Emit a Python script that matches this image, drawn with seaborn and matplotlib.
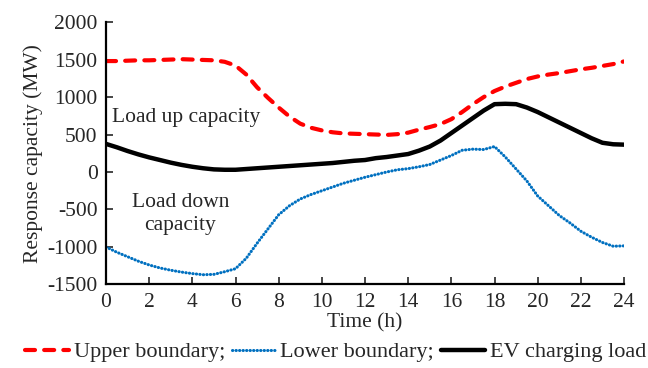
import numpy as np
import pandas as pd
import matplotlib
matplotlib.use("Agg")
import matplotlib.pyplot as plt
import seaborn as sns

# Half-hourly time axis (h)
hours = [i * 0.5 for i in range(49)]

# Upper boundary of response capacity (MW)
upper = [1480, 1480, 1485, 1490, 1490, 1495, 1500, 1505, 1500, 1495,
         1490, 1470, 1420, 1300, 1130, 990, 860, 740, 645, 590,
         555, 530, 515, 510, 505, 500, 495, 505, 525, 565,
         600, 640, 705, 800, 905, 1000, 1080, 1140, 1190, 1240,
         1275, 1300, 1320, 1345, 1370, 1390, 1415, 1440, 1475]

# Lower boundary of response capacity (MW)
lower = [-1000, -1070, -1130, -1190, -1240, -1280, -1310, -1335, -1355, -1370,
         -1365, -1330, -1290, -1150, -950, -760, -570, -450, -360, -300,
         -250, -200, -150, -110, -70, -35, 0, 30, 45, 70,
         100, 160, 220, 290, 305, 300, 340, 200, 40, -120,
         -320, -450, -580, -680, -790, -870, -940, -990, -985]

# EV charging load (MW)
ev_load = [375, 330, 280, 235, 195, 160, 125, 95, 70, 50,
           35, 30, 30, 40, 50, 60, 70, 80, 90, 100,
           110, 120, 135, 150, 160, 185, 200, 220, 240, 285,
           340, 420, 520, 620, 720, 820, 905, 910, 905, 860,
           800, 730, 660, 590, 520, 450, 390, 370, 365]

x_ticks = list(range(0, 25, 2))
y_ticks = list(range(-1500, 2001, 500))

df = pd.DataFrame({"Time": hours, "Upper": upper, "Lower": lower, "EV": ev_load})

sns.set_style("ticks")
plt.rcParams["font.family"] = ["Liberation Serif", "DejaVu Serif"]
plt.rcParams["font.size"] = 15.5
plt.rcParams["axes.unicode_minus"] = False

fs = 15.5
fig = plt.figure(figsize=(6.48, 3.68), dpi=100)
ax = fig.add_axes([0.1636, 0.227, 0.963 - 0.1636, 0.940 - 0.227])

sns.lineplot(data=df, x="Time", y="Upper", ax=ax, color="#ff0000", lw=3.0,
             label="Upper boundary;")
ax.lines[-1].set_linestyle((0, (2.4, 2.2)))
ax.lines[-1].set_dash_capstyle("round")
sns.lineplot(data=df, x="Time", y="Lower", ax=ax, color="#0070c0", lw=2.2,
             label="Lower boundary;")
ax.lines[-1].set_linestyle((0, (0.1, 1.05)))
ax.lines[-1].set_dash_capstyle("round")
sns.lineplot(data=df, x="Time", y="EV", ax=ax, color="black", lw=3.2,
             label="EV charging load")

ax.set_xlim(0, 24)
ax.set_ylim(-1500, 2000)
ax.set_xticks(x_ticks)
ax.set_yticks(y_ticks)
ax.tick_params(direction="in", length=5, width=1.2, labelsize=fs, pad=6)
for s in ("top", "right"):
    ax.spines[s].set_visible(False)
for s in ("left", "bottom"):
    ax.spines[s].set_linewidth(1.6)
    ax.spines[s].set_color("black")

ax.set_xlabel("Time (h)", fontsize=fs, labelpad=1)
ax.set_ylabel("Response capacity (MW)", fontsize=fs, labelpad=3)

ax.text(0.28, 730, "Load up capacity", fontsize=fs, ha="left", va="center")
ax.text(3.45, -555, "Load down\ncapacity", fontsize=fs, ha="center", va="center",
        linespacing=1.3)

ax.legend(loc="center left", bbox_to_anchor=(0.038, 0.043), bbox_transform=fig.transFigure,
          ncol=3, frameon=False, fontsize=16, handlelength=2.0, handletextpad=0.2,
          columnspacing=0.3, borderaxespad=0, borderpad=0)

fig.savefig("out.png", dpi=100)
